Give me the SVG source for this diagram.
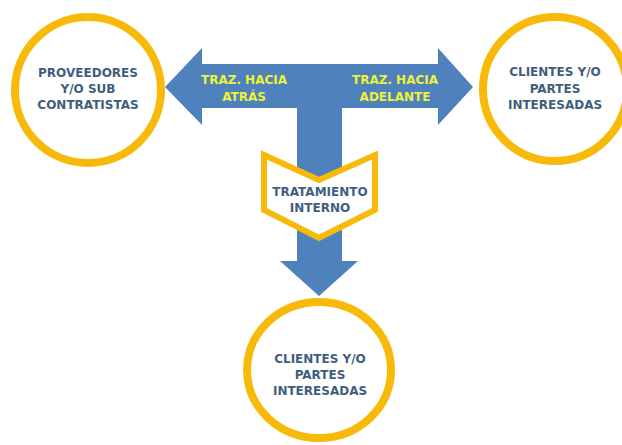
<svg xmlns="http://www.w3.org/2000/svg" width="622" height="445" viewBox="0 0 622 445">
<style>
.ring{fill:#fff;stroke:#F7BA0B;stroke-width:8}
.t{font-family:"DejaVu Sans",sans-serif;font-weight:bold;font-size:12px;fill:#3F5E7E;text-anchor:middle}
.y{font-family:"DejaVu Sans",sans-serif;font-weight:bold;font-size:12px;fill:#EDF23A;text-anchor:middle}
</style>
<rect width="622" height="445" fill="#fff"/>
<g id="connectors">
<polygon fill="#4F81BD" points="165,87 202,48 202,64 438,64 438,48 473,87 438,125 438,108 342,108 342,261 358,261 319,296 280,261 297,261 297,108 202,108 202,125"/>
<text class="y" x="244" y="84">TRAZ. HACIA</text>
<text class="y" x="244" y="101">ATRÁS</text>
<text class="y" x="395" y="84">TRAZ. HACIA</text>
<text class="y" x="395" y="101">ADELANTE</text>
</g>
<g id="proveedores">
<circle class="ring" cx="88" cy="90" r="73"/>
<text class="t" x="88" y="77">PROVEEDORES</text>
<text class="t" x="88" y="93">Y/O SUB</text>
<text class="t" x="88" y="109">CONTRATISTAS</text>
</g>
<g id="clientes-derecha">
<circle class="ring" cx="555" cy="89" r="72"/>
<text class="t" x="555" y="76">CLIENTES Y/O</text>
<text class="t" x="555" y="93">PARTES</text>
<text class="t" x="555" y="109">INTERESADAS</text>
</g>
<g id="tratamiento">
<polygon fill="#fff" stroke="#F7BA0B" stroke-width="6" stroke-linejoin="miter" points="264,155 319,180 375,155 375,210 319,238 264,210"/>
<text class="t" x="320" y="196">TRATAMIENTO</text>
<text class="t" x="320" y="212">INTERNO</text>
</g>
<g id="clientes-abajo">
<ellipse class="ring" cx="319" cy="370" rx="72" ry="68"/>
<text class="t" x="320" y="363">CLIENTES Y/O</text>
<text class="t" x="320" y="379">PARTES</text>
<text class="t" x="320" y="395">INTERESADAS</text>
</g>
</svg>
